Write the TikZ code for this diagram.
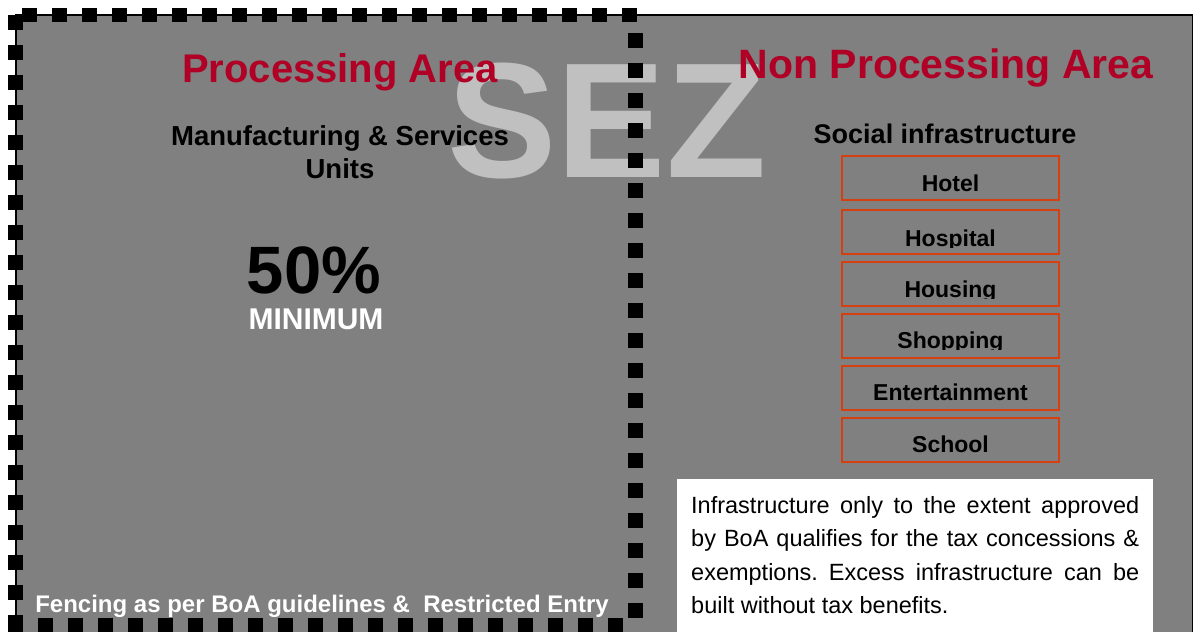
\documentclass[tikz,border=0pt]{standalone}
\usepackage{fontspec}
\setmainfont{Liberation Sans}
\definecolor{sezgray}{RGB}{128,128,128}
\definecolor{sezred}{RGB}{176,0,38}
\definecolor{sezlight}{RGB}{192,192,192}
\definecolor{boxorange}{RGB}{214,64,16}
\newcommand{\fs}[1]{\fontsize{#1}{#1}\selectfont}
\tikzset{
  fence/.style={line width=14.5pt, dash pattern=on 15pt off 15pt, line cap=butt, black},
  title/.style={font=\fs{40}\bfseries, text=sezred, inner sep=0pt, anchor=base},
  head/.style={font=\fs{27.5}\bfseries, text=black, inner sep=0pt, anchor=base},
  ibox/.style={draw=boxorange, line width=1.5pt, minimum width=217pt, minimum height=44pt, inner sep=0pt},
  ilabel/.style={font=\fs{23}\bfseries, text=black, inner sep=0pt, anchor=base},
}
\begin{document}
\begin{tikzpicture}[x=1pt,y=-1pt]
\useasboundingbox (0,0) rectangle (1195,632);
\clip (0,0) rectangle (1195,632);
% background area
\draw[line width=1.5pt, fill=sezgray] (16,15) rectangle (1192.5,650);
% big SEZ watermark
\node[font=\fs{164}\bfseries, text=sezlight, inner sep=0pt, anchor=base] (sez) at (607,177) {SEZ};
% titles
\node[title] (proc) at (340,82) {Processing Area};
\node[title, font=\fs{41}\bfseries] (nonproc) at (946,78) {Non Processing Area};
% processing area content
\node[head] (manu1) at (340,145) {Manufacturing \& Services};
\node[head] (manu2) at (340,178) {Units};
\node[font=\fs{67}\bfseries, text=black, inner sep=0pt, anchor=base] (fifty) at (314,293) {50\%};
\node[font=\fs{30}\bfseries, text=white, inner sep=0pt, anchor=base] (minimum) at (316,329) {MINIMUM};
\node[font=\fs{24}\bfseries, text=white, inner sep=0pt, anchor=base] (fencing) at (322,612) {Fencing as per BoA guidelines \&\ \ Restricted Entry};
% non processing content
\node[head, font=\fs{27}\bfseries] (social) at (945,143) {Social infrastructure};
\foreach \nm/\tp/\bs/\txt in {hotel/156/191/Hotel, hospital/210/246/Hospital, housing/262/297/Housing, shopping/314/348/Shopping, entertainment/366/400/Entertainment, school/418/452/School}{
  \node[ibox] (\nm) at (950.5,\tp+22) {};
  \begin{scope}
    \clip (842,\tp) rectangle (1059,\bs+1.5);
    \node[ilabel] (\nm-t) at (950.5,\bs) {\txt};
  \end{scope}
}
% note box
\fill[white] (677,479) rectangle (1153,650);
\node[anchor=north west, inner sep=0pt, text width=448pt, align=justify,
      font=\fontsize{23.5}{33.5}\selectfont] (note) at (691,496)
  {\hyphenpenalty=10000 \frenchspacing Infrastructure only to the extent approved\linebreak by BoA qualifies for the tax concessions \&\linebreak exemptions. Excess infrastructure can be\linebreak built without tax benefits.};
% fence
\draw[fence] (22,15) -- (637,15);
\draw[fence] (15.5,15) -- (15.5,632);
\draw[fence] (635.5,33) -- (635.5,620);
\draw[fence] (8,625) -- (625,625);
\end{tikzpicture}
\end{document}
